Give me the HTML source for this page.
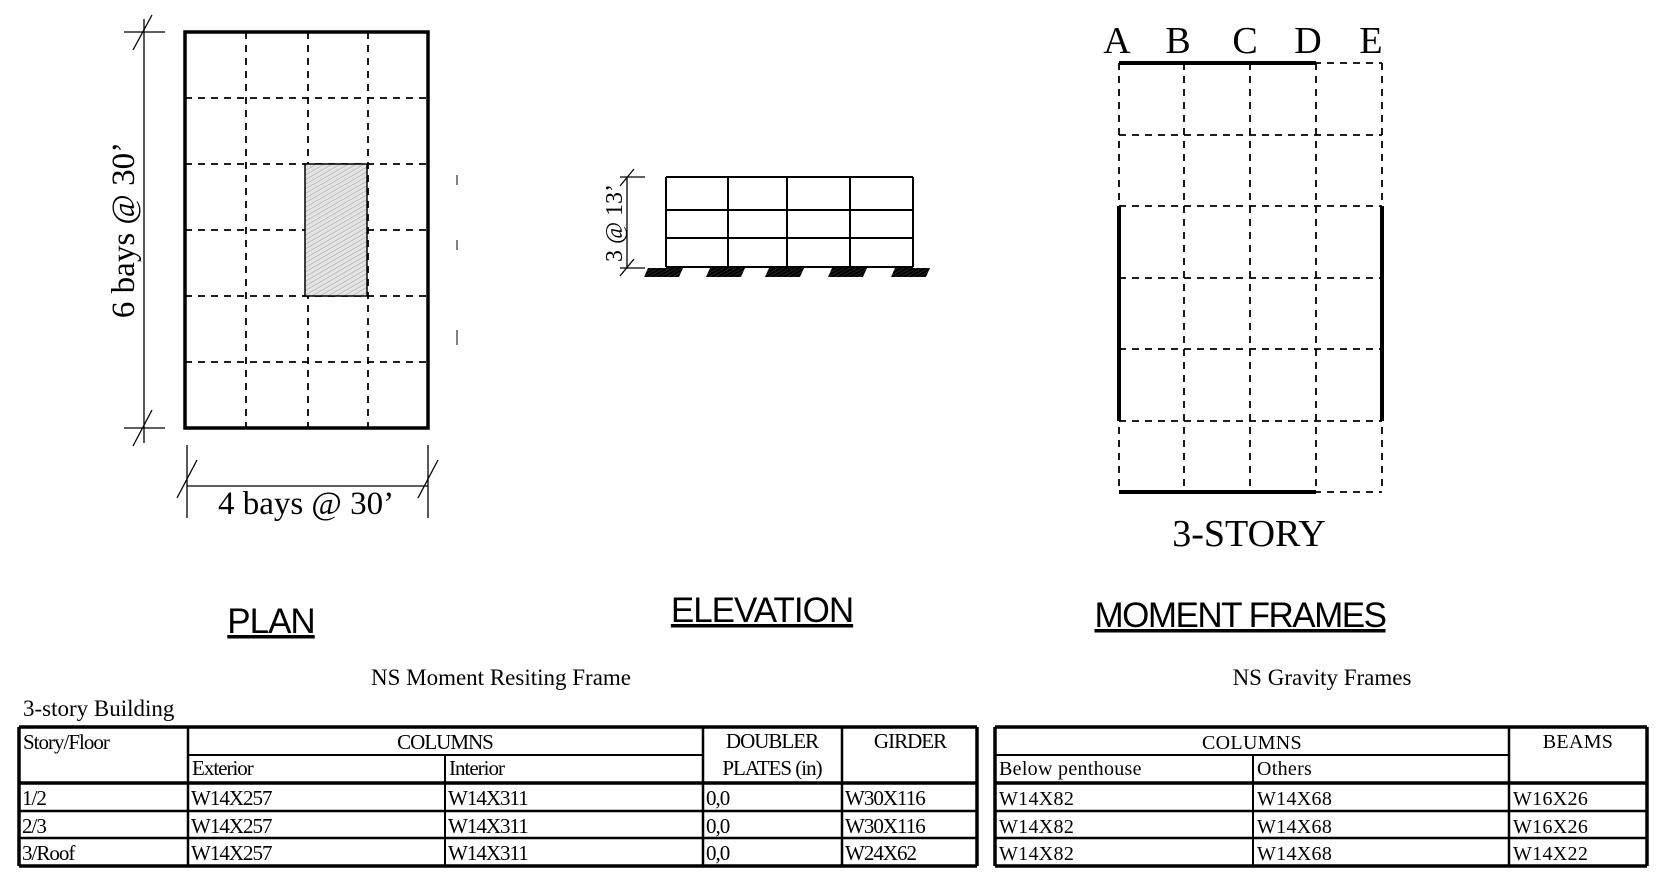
<!DOCTYPE html>
<html><head><meta charset="utf-8"><style>
html,body{margin:0;padding:0;background:#fff;}
svg{display:block;}
.serif{font-family:"Liberation Serif",serif;}
.sans{font-family:"Liberation Sans",sans-serif;}
</style></head><body>
<svg width="1666" height="886" viewBox="0 0 1666 886" xmlns="http://www.w3.org/2000/svg">
<defs>
<pattern id="hatch" width="4" height="4" patternUnits="userSpaceOnUse" patternTransform="rotate(60)">
<rect width="4" height="4" fill="#e4e4e4"/><line x1="0" y1="0" x2="0" y2="4" stroke="#999" stroke-width="1"/></pattern>
<pattern id="ground" width="3" height="3" patternUnits="userSpaceOnUse" patternTransform="rotate(60)">
<rect width="3" height="3" fill="#000"/><line x1="0" y1="0" x2="0" y2="3" stroke="#555" stroke-width="0.8"/></pattern>
</defs>
<g id="plan"></g>
<g id="elev"></g>
<g id="mf"></g>

<text class="sans" x="271" y="633" font-size="35" text-anchor="middle" text-decoration="underline" letter-spacing="-1">PLAN</text>
<text class="sans" x="762" y="622" font-size="35" text-anchor="middle" text-decoration="underline" letter-spacing="-1">ELEVATION</text>
<text class="sans" x="1240" y="627" font-size="35" text-anchor="middle" text-decoration="underline" letter-spacing="-1.5">MOMENT FRAMES</text>

<text class="serif" x="501" y="685" font-size="23" text-anchor="middle">NS Moment Resiting Frame</text>
<text class="serif" x="1322" y="685" font-size="23" text-anchor="middle">NS Gravity Frames</text>
<text class="serif" x="23" y="716" font-size="23">3-story Building</text>

<g id="t1"></g>
<g id="t2"></g>
</svg>
<script>
const NS='http://www.w3.org/2000/svg';
function mk(parent,tag,attrs,text){const e=document.createElementNS(NS,tag);for(const k in attrs)e.setAttribute(k,attrs[k]);if(text!==undefined)e.textContent=text;document.getElementById(parent).appendChild(e);return e;}
function ln(p,x1,y1,x2,y2,w,dash){return mk(p,'line',{x1,y1,x2,y2,stroke:'#000','stroke-width':w,'stroke-dasharray':dash||'none'});}

// PLAN
const px=[185,246,308,368,428], py=[32,98,164,230,296,362,428];
for(let i=1;i<4;i++)ln('plan',px[i],py[0],px[i],py[6],1.8,'7,6');
for(let j=1;j<6;j++)ln('plan',px[0],py[j],px[4],py[j],1.8,'7,6');
let hr=mk('plan','rect',{x:305,y:164,width:62,height:132,fill:'url(#hatch)',stroke:'#000','stroke-width':1.5});


let pr=mk('plan','rect',{x:185,y:32,width:243,height:396,fill:'none',stroke:'#000','stroke-width':3.5});


ln('plan',144,19,144,443,1.3);ln('plan',124,32,165,32,1.3);ln('plan',124,428,165,428,1.3);
ln('plan',133,50,152,15,1.3);ln('plan',133,446,152,410,1.3);
ln('plan',187,486,428,486,1.3);ln('plan',187,445,187,518,1.3);ln('plan',428,445,428,518,1.3);
ln('plan',177,498,197,460,1.3);ln('plan',418,498,438,460,1.3);
ln('plan',457,175,457,185,1);ln('plan',457,240,457,250,1);ln('plan',457,330,457,345,1);
let pl=mk('plan','text',{class:'serif',x:0,y:0,'font-size':33,'text-anchor':'middle',transform:'translate(134,230) rotate(-90)'},'6 bays @ 30’');


let pl2=mk('plan','text',{class:'serif',x:306,y:514,'font-size':33,'text-anchor':'middle'},'4 bays @ 30’');



// ELEVATION
const ex=[666,728,787,850,913], ey=[177,210,238,267];
ex.forEach(x=>ln('elev',x,ey[0],x,ey[3],2));
ey.forEach(y=>ln('elev',ex[0],y,ex[4],y,2));
ex.forEach(x=>{const r=mk('elev','polygon',{points:`${x-18},268 ${x+17},268 ${x+13},277 ${x-22},277`,fill:'url(#ground)'});});
ln('elev',627,177,627,268,1.3);ln('elev',620,177,645,177,1.3);ln('elev',620,268,645,268,1.3);
ln('elev',620,186,634,169,1.3);ln('elev',620,276,634,259,1.3);
let el=mk('elev','text',{class:'serif',x:0,y:0,'font-size':24,'text-anchor':'middle',transform:'translate(622,223) rotate(-90)'},'3 @ 13’');



// MOMENT FRAMES
const mx=[1119,1184,1250,1316,1382], my=[63,135,206,278,349,421,492];
for(let i=0;i<5;i++)ln('mf',mx[i],my[0],mx[i],my[6],1.8,'7,6');
for(let j=0;j<7;j++)ln('mf',mx[0],my[j],mx[4],my[j],1.8,'7,6');
ln('mf',mx[0],my[0],mx[3],my[0],4);ln('mf',mx[0],my[6],mx[3],my[6],4);
ln('mf',mx[0],my[2],mx[0],my[5],4);ln('mf',mx[4],my[2],mx[4],my[5],4);
const labels=['A','B','C','D','E'], lx=[1122,1183,1250,1313,1376];
labels.forEach((l,i)=>{const t=mk('mf','text',{class:'serif',x:lx[i]-5,y:53,'font-size':38,'text-anchor':'middle'},l);});
let st=mk('mf','text',{class:'serif',x:1249,y:546,'font-size':38,'text-anchor':'middle'},'3-STORY');



// TABLE 1
const t1y=[727,755,783,811,838,866];
const R1=977;
ln('t1',19,727,R1,727,3.5);ln('t1',19,866,R1,866,3.5);ln('t1',19,727,19,866,3.5);ln('t1',R1,727,R1,866,3.5);
ln('t1',19,783,R1,783,3.5);ln('t1',19,811,R1,811,2.5);ln('t1',19,838,R1,838,2.5);
ln('t1',188,755,703,755,2);
[188,703,842].forEach(x=>ln('t1',x,727,x,866,2.5));ln('t1',445,755,445,866,2);
function tx(g,x,y,s,anchor,name,fs,ls){const t=mk(g,'text',{class:'serif',x,y,'font-size':fs,'text-anchor':anchor||'start','letter-spacing':ls});t.textContent=s;}
tx('t1',23,749,'Story/Floor','start','header-story',21,-1);
tx('t1',445,749,'COLUMNS','middle','header-columns',21,-1);
tx('t1',192,775,'Exterior','start','header-exterior',21,-1);
tx('t1',449,775,'Interior','start','header-interior',21,-1);
tx('t1',772,748,'DOUBLER','middle','header-doubler',21,-1);
tx('t1',772,775,'PLATES (in)','middle','header-plates',21,-1);
tx('t1',910,748,'GIRDER','middle','header-girder',21,-1);
const stories=['1/2','2/3','3/Roof'], ext=['W14X257','W14X257','W14X257'], inte=['W14X311','W14X311','W14X311'], dbl=['0,0','0,0','0,0'], gird=['W30X116','W30X116','W24X62'];
for(let r=0;r<3;r++){const y=t1y[r+2]+22;
tx('t1',22,y,stories[r],'start','story-cell',21,-1);tx('t1',191,y,ext[r],'start','exterior-cell',21,-1);
tx('t1',448,y,inte[r],'start','interior-cell',21,-1);tx('t1',706,y,dbl[r],'start','doubler-cell',21,-1);
tx('t1',845,y,gird[r],'start','girder-cell',21,-1);}

// TABLE 2
const t2y=[727,755,783,811,838,866];
const L2=995,R2=1647,C2a=1253,C2b=1509;
ln('t2',L2,727,R2,727,3.5);ln('t2',L2,866,R2,866,3.5);ln('t2',L2,727,L2,866,3.5);ln('t2',R2,727,R2,866,3.5);
ln('t2',L2,783,R2,783,3.5);ln('t2',L2,811,R2,811,2.5);ln('t2',L2,838,R2,838,2.5);
ln('t2',L2,755,C2b,755,2);ln('t2',C2b,727,C2b,866,2.5);ln('t2',C2a,755,C2a,866,2);
tx('t2',1252,749,'COLUMNS','middle','header-columns',20,0.3);
tx('t2',1578,748,'BEAMS','middle','header-beams',20,0.3);
tx('t2',999,775,'Below penthouse','start','header-below-penthouse',20,0.3);
tx('t2',1257,775,'Others','start','header-others',20,0.3);
const bp=['W14X82','W14X82','W14X82'], oth=['W14X68','W14X68','W14X68'], beams=['W16X26','W16X26','W14X22'];
for(let r=0;r<3;r++){const y=t2y[r+2]+22;
tx('t2',999,y,bp[r],'start','below-penthouse-cell',20,0.3);tx('t2',1257,y,oth[r],'start','others-cell',20,0.3);
tx('t2',1513,y,beams[r],'start','beams-cell',20,0.3);}
</script>
</body></html>
